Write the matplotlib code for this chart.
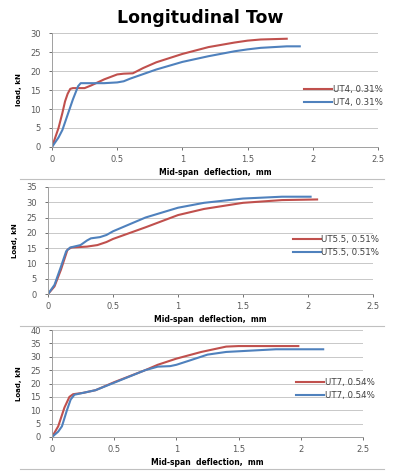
import matplotlib
matplotlib.use('Agg')
import matplotlib.pyplot as plt
from matplotlib.lines import Line2D

RED = '#c0504d'
BLUE = '#4f81bd'

# UT4
ut4_red_x = [0, 0.02, 0.05, 0.08, 0.10, 0.12, 0.14, 0.16, 0.25, 0.30, 0.40, 0.50, 0.55, 0.62, 0.70, 0.80, 1.0, 1.2, 1.4, 1.5, 1.6, 1.8]
ut4_red_y = [0, 2, 5, 9, 12, 14, 15.3, 15.5, 15.5, 16.2, 17.8, 19.1, 19.3, 19.4, 20.8, 22.3, 24.5, 26.3, 27.5, 28.0, 28.3, 28.5]
ut4_blue_x = [0, 0.05, 0.08, 0.12, 0.16, 0.20, 0.22, 0.30, 0.40, 0.50, 0.55, 0.60, 0.70, 0.80, 1.0, 1.2, 1.4, 1.5, 1.6, 1.8, 1.9]
ut4_blue_y = [0, 2.5, 4.5, 8.5, 12.5, 16, 16.8, 16.8, 16.8, 17.0, 17.3, 18.0, 19.2, 20.4, 22.4, 23.9, 25.2, 25.7, 26.1, 26.5, 26.5]

# UT5.5
ut55_red_x = [0, 0.05, 0.10, 0.15, 0.18, 0.30, 0.38, 0.45, 0.50, 0.75, 1.0, 1.2, 1.5, 1.8, 2.07]
ut55_red_y = [0, 2.5, 8, 14.5, 15.2, 15.5, 16.0, 17.0, 18.0, 21.8, 25.8, 27.8, 29.8, 30.7, 30.9]
ut55_blue_x = [0, 0.05, 0.10, 0.14, 0.17, 0.25, 0.30, 0.33, 0.40, 0.45, 0.50, 0.75, 1.0, 1.2, 1.5, 1.8, 2.02]
ut55_blue_y = [0, 3, 9, 14, 15.2, 16.0, 17.5, 18.2, 18.6, 19.3, 20.5, 25.0, 28.2, 29.8, 31.2, 31.8, 31.8]

# UT7
ut7_red_x = [0, 0.05, 0.10, 0.14, 0.17, 0.25, 0.35, 0.50, 0.75, 0.85, 1.0, 1.2, 1.4, 1.5, 1.98]
ut7_red_y = [0, 4, 11, 15, 16, 16.5, 17.5, 20.5, 25.0, 27.0, 29.3, 31.8, 33.8, 34.0, 34.0]
ut7_blue_x = [0, 0.05, 0.08, 0.12, 0.15, 0.18, 0.25, 0.35, 0.50, 0.75, 0.85, 0.95, 1.0, 1.1, 1.25, 1.4, 1.6, 1.8, 2.18]
ut7_blue_y = [0, 2, 4, 10, 14, 15.8, 16.5, 17.5, 20.3, 25.0, 26.3, 26.5, 27.0, 28.5, 30.8, 31.8, 32.3, 32.8, 32.8]

panels = [
    dict(rect=[0.13, 0.6886, 0.815, 0.2414], ymax=30, ylabel='load, kN', label='UT4, 0.31%',
         red=(ut4_red_x, ut4_red_y), blue=(ut4_blue_x, ut4_blue_y), leg=(0.75, 0.45)),
    dict(rect=[0.12, 0.377, 0.8125, 0.227], ymax=35, ylabel='Load, kN', label='UT5.5, 0.51%',
         red=(ut55_red_x, ut55_red_y), blue=(ut55_blue_x, ut55_blue_y), leg=(0.73, 0.45)),
    dict(rect=[0.13, 0.0742, 0.7775, 0.2266], ymax=40, ylabel='Load, kN', label='UT7, 0.54%',
         red=(ut7_red_x, ut7_red_y), blue=(ut7_blue_x, ut7_blue_y), leg=(0.76, 0.45)),
]

fig = plt.figure(figsize=(4, 4.72), dpi=100)
fig.text(0.5, 0.962, 'Longitudinal Tow', ha='center', va='center', fontsize=12.5, fontweight='bold')

for p in panels:
    ax = fig.add_axes(p['rect'])
    ax.plot(*p['red'], color=RED, lw=1.5)
    ax.plot(*p['blue'], color=BLUE, lw=1.5)
    ax.set_xlim(0, 2.5)
    ax.set_ylim(0, p['ymax'])
    ax.set_xticks([0, 0.5, 1, 1.5, 2, 2.5])
    ax.set_xticklabels(['0', '0.5', '1', '1.5', '2', '2.5'])
    ax.set_yticks(range(0, p['ymax'] + 1, 5))
    ax.grid(axis='y', color='#c8c8c8', lw=0.7)
    ax.set_axisbelow(True)
    for s in ['top', 'right']:
        ax.spines[s].set_visible(False)
    for s in ['left', 'bottom']:
        ax.spines[s].set_color('#a0a0a0')
        ax.spines[s].set_linewidth(0.7)
    ax.tick_params(labelsize=6, colors='#595959', length=2, width=0.6)
    ax.tick_params(axis='y', pad=6)
    ax.set_xlabel('Mid-span  deflection,  mm', fontsize=5.5, fontweight='bold', labelpad=3)
    ax.set_ylabel(p['ylabel'], fontsize=5, fontweight='bold', family='Liberation Sans Narrow', labelpad=6)
    handles = [Line2D([], [], color=RED, lw=1.5), Line2D([], [], color=BLUE, lw=1.5)]
    ax.legend(handles, [p['label'], p['label']], loc='center left', bbox_to_anchor=p['leg'],
              frameon=False, fontsize=6.2, handlelength=3.2, handletextpad=0.1, labelspacing=0.5,
              labelcolor='#404040')

    # separator line below each panel
    b = p['rect'][1]
    fig.add_artist(Line2D([0.05, 0.96], [b - 0.068, b - 0.068], color='#c0c0c0', lw=0.8))

fig.savefig('out.png', dpi=100)
